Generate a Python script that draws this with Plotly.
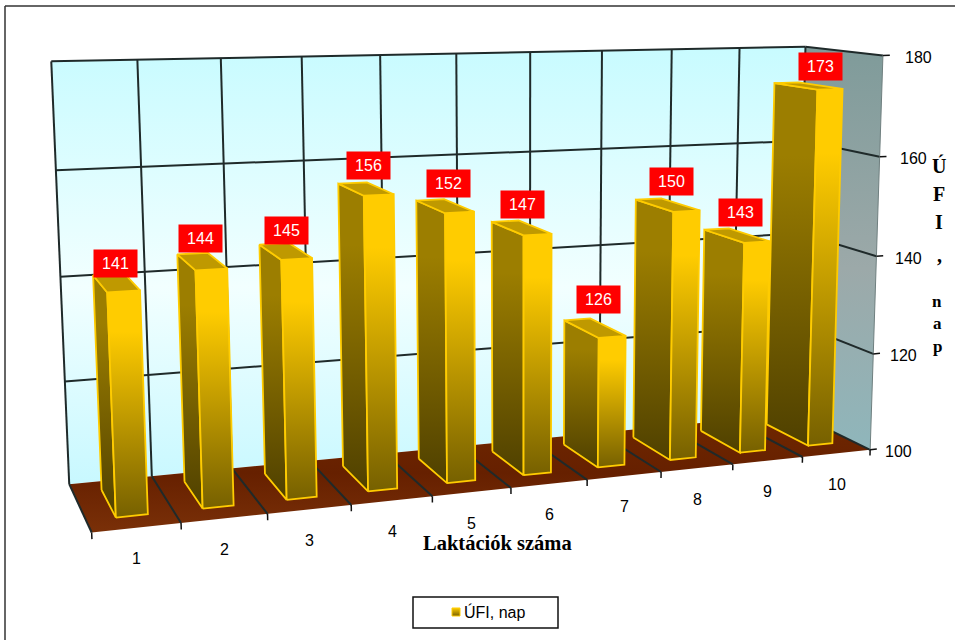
import numpy as np
import plotly.graph_objects as go

# Chart data
categories = [1, 2, 3, 4, 5, 6, 7, 8, 9, 10]
ufi_days = [141, 144, 145, 156, 152, 147, 126, 150, 143, 173]
value_ticks = [100, 120, 140, 160, 180]
series_name = "ÚFI, nap"
x_title = "Laktációk száma"
y_title = "ÚFI, nap"

WIDTH, HEIGHT = 955, 640
Z_MIN, Z_MAX = value_ticks[0], value_ticks[-1]
N = len(categories)

# Box geometry inside one category slot (x across, depth front to back)
BAR_X0, BAR_X1 = 0.335, 0.70
BAR_D0, BAR_D1 = 0.23, 0.81

# Hand placement of the value labels relative to their boxes, in pixels (right, up)
LABEL_DX = [3, 1, 1, 1, 0, -4, -2, -4, -5, 2]
LABEL_DY = [1, 3, 1, 2, 2, 3, 10, 2, 2, -5]

# Camera calibration: chart-box corners (x, depth, z) and where they land on the canvas
CALIBRATION = [
    (0, 0, 100, 93, 532), (1, 0, 100, 182, 523), (2, 0, 100, 267, 513),
    (3, 0, 100, 350, 504), (4, 0, 100, 432, 495), (5, 0, 100, 511, 488),
    (6, 0, 100, 587, 480), (7, 0, 100, 660, 472), (8, 0, 100, 732, 465),
    (9, 0, 100, 802, 458), (10, 0, 100, 870, 452),
    (0, 1, 100, 67, 485), (1, 1, 100, 152, 477), (4, 1, 100, 385, 453),
    (7, 1, 100, 606, 432), (10, 1, 100, 794, 413),
    (0, 1, 180, 51, 62), (1, 1, 180, 138, 60), (5, 1, 180, 457, 54),
    (9, 1, 180, 738, 48), (10, 1, 180, 804, 46), (10, 0, 180, 885, 55),
    (0, 1, 140, 60, 277), (10, 0, 140, 877, 256),
]


def fit_camera(points):
    rows = []
    for x, d, z, u, v in points:
        X = [x / N, d, (z - Z_MIN) / (Z_MAX - Z_MIN), 1.0]
        u, v = u / 500.0, v / 500.0
        rows.append(X + [0, 0, 0, 0] + [-u * c for c in X])
        rows.append([0, 0, 0, 0] + X + [-v * c for c in X])
    _, _, vt = np.linalg.svd(np.array(rows))
    return vt[-1].reshape(3, 4)


CAMERA = fit_camera(CALIBRATION)


def project(x, d, z):
    """World point to plot coordinates (x right, y up, in canvas pixels)."""
    h = CAMERA @ np.array([x / N, d, (z - Z_MIN) / (Z_MAX - Z_MIN), 1.0])
    return 500.0 * h[0] / h[2], HEIGHT - 500.0 * h[1] / h[2]


def polygon(corners):
    pts = [project(*c) for c in corners]
    pts.append(pts[0])
    return [p[0] for p in pts], [p[1] for p in pts]


def face(corners, scale=None, color=None, edge=None, edge_width=1.8):
    xs, ys = polygon(corners)
    kw = dict(x=xs, y=ys, mode="lines", fill="toself", hoverinfo="skip", showlegend=False,
              line=dict(color=edge or "rgba(0,0,0,0)", width=edge_width))
    if scale:
        kw["fillgradient"] = dict(type="vertical", colorscale=scale)
    else:
        kw["fillcolor"] = color
    return go.Scatter(**kw)


def polyline(segments, color, width):
    xs, ys = [], []
    for a, b in segments:
        p, q = project(*a), project(*b)
        xs += [p[0], q[0], None]
        ys += [p[1], q[1], None]
    return go.Scatter(x=xs, y=ys, mode="lines", hoverinfo="skip", showlegend=False,
                      line=dict(color=color, width=width))


WALL_SCALE = [[0, "#C8F8FF"], [0.45, "#F2FFFF"], [1, "#C8FBFF"]]
SIDE_SCALE = [[0, "#8FB6BB"], [0.45, "#9CA9A9"], [1, "#7F9B9A"]]
FLOOR_SCALE = [[0, "#7A3008"], [0.5, "#662000"], [1, "#702800"]]
FRONT_SCALE = [[0, "#766000"], [0.82, "#FFCC00"], [1, "#FFCC00"]]
LEFT_SCALE = [[0, "#4F4000"], [0.8, "#9C7E00"], [1, "#9C7E00"]]
GRID = "#1F2A2A"
GOLD = "#FFCC00"

fig = go.Figure()

# Walls and floor
fig.add_trace(face([(0, 1, Z_MIN), (N, 1, Z_MIN), (N, 1, Z_MAX), (0, 1, Z_MAX)], WALL_SCALE))
fig.add_trace(face([(N, 1, Z_MIN), (N, 0, Z_MIN), (N, 0, Z_MAX), (N, 1, Z_MAX)], SIDE_SCALE))
fig.add_trace(face([(0, 0, Z_MIN), (N, 0, Z_MIN), (N, 1, Z_MIN), (0, 1, Z_MIN)], FLOOR_SCALE))

# Gridlines
grid = []
for t in value_ticks[1:]:
    grid.append(((0, 1, t), (N, 1, t)))
    grid.append(((N, 1, t), (N, 0, t)))
for i in range(N + 1):
    grid.append(((i, 1, Z_MIN), (i, 1, Z_MAX)))
    grid.append(((i, 1, Z_MIN), (i, 0, Z_MIN)))
fig.add_trace(polyline(grid, GRID, 2))
fig.add_trace(polyline([((N, 0, Z_MIN), (N, 0, Z_MAX))], "#6F7F7F", 1))

# Axis ticks, sized in the box's own units
ticks = [((N, 0, t), (N + 0.1, 0, t)) for t in value_ticks]
ticks += [((i, 0, Z_MIN), (i, 0, Z_MIN - 1.2)) for i in range(N + 1)]
fig.add_trace(polyline(ticks, "#111111", 1.5))

# Boxes, farthest first so nearer ones overlap them
for idx in reversed(range(N)):
    v = ufi_days[idx]
    x0, x1 = idx + BAR_X0, idx + BAR_X1
    fig.add_trace(face([(x0, BAR_D1, Z_MIN), (x0, BAR_D0, Z_MIN), (x0, BAR_D0, v), (x0, BAR_D1, v)],
                       LEFT_SCALE, edge=GOLD))
    fig.add_trace(face([(x0, BAR_D0, Z_MIN), (x1, BAR_D0, Z_MIN), (x1, BAR_D0, v), (x0, BAR_D0, v)],
                       FRONT_SCALE, edge=GOLD))
    fig.add_trace(face([(x0, BAR_D0, v), (x1, BAR_D0, v), (x1, BAR_D1, v), (x0, BAR_D1, v)],
                       color="#BF9900", edge=GOLD))

# Legend swatch
fig.add_trace(go.Scatter(x=[456], y=[HEIGHT - 612], mode="markers", name=series_name,
                         hoverinfo="skip", showlegend=False,
                         marker=dict(symbol="square", size=8, color="#FFCC00",
                                     gradient=dict(type="vertical", color="#7A6200"),
                                     line=dict(color=GOLD, width=1))))

annotations = []
SANS = "Liberation Sans, Arial, sans-serif"
SERIF = "Liberation Serif, Times New Roman, serif"

# Value labels over the front face of each box
for idx, v in enumerate(ufi_days):
    px, py = project(idx + (BAR_X0 + BAR_X1) / 2, BAR_D0, v)
    annotations.append(dict(x=px, y=py, xref="x", yref="y", text=str(v), showarrow=False,
                            xanchor="center", yanchor="bottom",
                            xshift=-11.5 + LABEL_DX[idx], yshift=13 + LABEL_DY[idx],
                            width=43, height=27, bgcolor="#FF0000", borderpad=0,
                            font=dict(family=SANS, size=16, color="white")))

# Value axis labels
for t in value_ticks:
    px, py = project(N, 0, t)
    annotations.append(dict(x=px, y=py, xref="x", yref="y", text=str(t), showarrow=False,
                            xanchor="center", yanchor="middle",
                            xshift=28 + 8 * (t - Z_MIN) / (Z_MAX - Z_MIN), yshift=-2,
                            font=dict(family=SANS, size=16, color="black")))

# Category labels
for idx, c in enumerate(categories):
    px, py = project(idx + 0.5, 0, Z_MIN)
    annotations.append(dict(x=px, y=py, xref="x", yref="y", text=str(c), showarrow=False,
                            xanchor="center", yanchor="middle", yshift=-31,
                            font=dict(family=SANS, size=16, color="black")))

annotations.append(dict(x=497, y=HEIGHT - 543, xref="x", yref="y", text=f"<b>{x_title}</b>",
                        showarrow=False, xanchor="center", yanchor="middle",
                        font=dict(family=SERIF, size=20.5, color="black")))

# Legend text
annotations.append(dict(x=463, y=HEIGHT - 612, xref="x", yref="y", text=series_name,
                        showarrow=False, xanchor="left", yanchor="middle", xshift=-1,
                        font=dict(family=SANS, size=16, color="black")))

# Value axis title, stacked one letter per line
title_y = [165, 194, 222, 255, None, 301, 323, 346]
title_x = [939, 939, 939, 939, None, 937, 937, 937]
title_size = [20, 20, 20, 20, None, 17, 17, 17]
for ch, tx, ty, ts in zip(y_title, title_x, title_y, title_size):
    if ty is None:
        continue
    annotations.append(dict(x=tx, y=HEIGHT - ty, xref="x", yref="y", text=f"<b>{ch}</b>",
                            showarrow=False, xanchor="center", yanchor="middle",
                            font=dict(family=SERIF, size=ts, color="black")))

shapes = [
    dict(type="line", xref="x", yref="y", x0=5, x1=5, y0=0, y1=HEIGHT - 6,
         line=dict(color="#333333", width=1.5)),
    dict(type="line", xref="x", yref="y", x0=5, x1=WIDTH, y0=HEIGHT - 6, y1=HEIGHT - 6,
         line=dict(color="#333333", width=1.5)),
    dict(type="rect", xref="x", yref="y", x0=413, x1=558, y0=HEIGHT - 628, y1=HEIGHT - 597,
         line=dict(color="#111111", width=1.5), fillcolor="white", layer="below"),
]

fig.update_layout(
    width=WIDTH, height=HEIGHT,
    margin=dict(l=0, r=0, t=0, b=0),
    paper_bgcolor="white", plot_bgcolor="white",
    xaxis=dict(range=[0, WIDTH], visible=False, fixedrange=True),
    yaxis=dict(range=[0, HEIGHT], visible=False, fixedrange=True),
    annotations=annotations, shapes=shapes,
    showlegend=False,
)

fig.write_html("out.html", config=dict(displayModeBar=False))
